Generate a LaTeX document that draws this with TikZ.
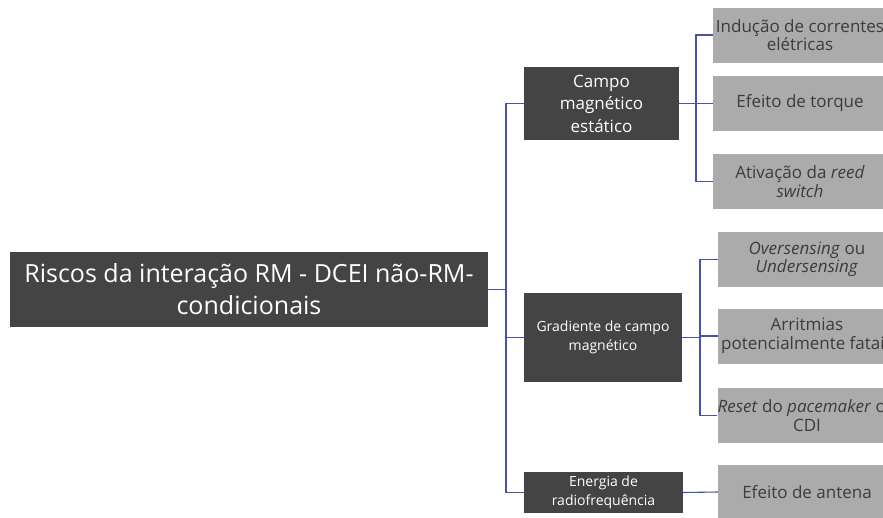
\documentclass[tikz,border=0pt]{standalone}
\usepackage{fontspec}
\setmainfont{Open Sans}
\usepackage{tikz}
\usetikzlibrary{positioning}
\definecolor{darkbox}{HTML}{444444}
\definecolor{lightbox}{HTML}{ABABAB}
\definecolor{boxtext}{HTML}{3C3C3C}
\definecolor{linkblue}{HTML}{4652AE}
\tikzset{
    dark/.style={fill=darkbox,text=white,align=center,inner sep=0pt},
    light/.style={fill=lightbox,text=boxtext,align=center,inner sep=0pt,
        minimum height=55,font=\fontsize{17}{18.5}\selectfont},
    link/.style={draw=linkblue,line width=1.1pt}
}

\begin{document}
\begin{tikzpicture}[x=1pt,y=-1pt]
            \useasboundingbox (0,0) rectangle (883,517);
            \clip (0,0) rectangle (883,517);
            \fill[white] (0,0) rectangle (883,517);

            \node[dark,minimum width=478,minimum height=75,font=\fontsize{25}{32}\selectfont] (root) at (249,289.5)
                {Riscos da interação RM - DCEI não-RM-\\condicionais};
            \node[dark,minimum width=155,minimum height=73,font=\fontsize{17}{22.5}\selectfont] (campo) at (601.5,103.5)
                {Campo\\magnético\\estático};
            \node[dark,minimum width=158,minimum height=89,font=\fontsize{14}{19}\selectfont] (grad) at (603,337.5)
                {Gradiente de campo\\magnético};
            \node[dark,minimum width=159,minimum height=41,font=\fontsize{14}{19}\selectfont] (energia) at (603.5,492.5)
                {Energia de\\radiofrequência};

            \node[light,minimum width=174] (inducao) at (800,35) {Indução de correntes\\elétricas};
            \node[light,minimum width=174] (torque) at (800,103.5) {Efeito de torque};
            \node[light,minimum width=174] (reed) at (800,181.5) {Ativação da \textit{reed}\\\textit{switch}};
            \node[light,minimum width=178] (sensing) at (807,259.5) {\textit{Oversensing} ou\\\textit{Undersensing}};
            \node[light,minimum width=178] (arritmia) at (807,336) {Arritmias\\potencialmente fatais};
            \node[light,minimum width=178] (reset) at (807,415.5) {\textit{Reset} do \textit{pacemaker} ou\\CDI};
            \node[light,minimum width=178] (antena) at (807,492) {Efeito de antena};

            \coordinate (trunk) at (506,0);
            \coordinate (forka) at (696,0);
            \coordinate (forkb) at (700,0);
            \foreach \n in {campo,grad,energia}
                \draw[link] (root.east) -- (root.east -| trunk) |- (\n.west);
            \foreach \n in {inducao,torque,reed}
                \draw[link] (campo.east) -- (campo.east -| forka) |- (\n.west);
            \foreach \n in {sensing,arritmia,reset}
                \draw[link] (grad.east) -- (grad.east -| forkb) |- (\n.west);
            \draw[link] (energia.east) -- (antena.west);

        \end{tikzpicture}
\end{document}
